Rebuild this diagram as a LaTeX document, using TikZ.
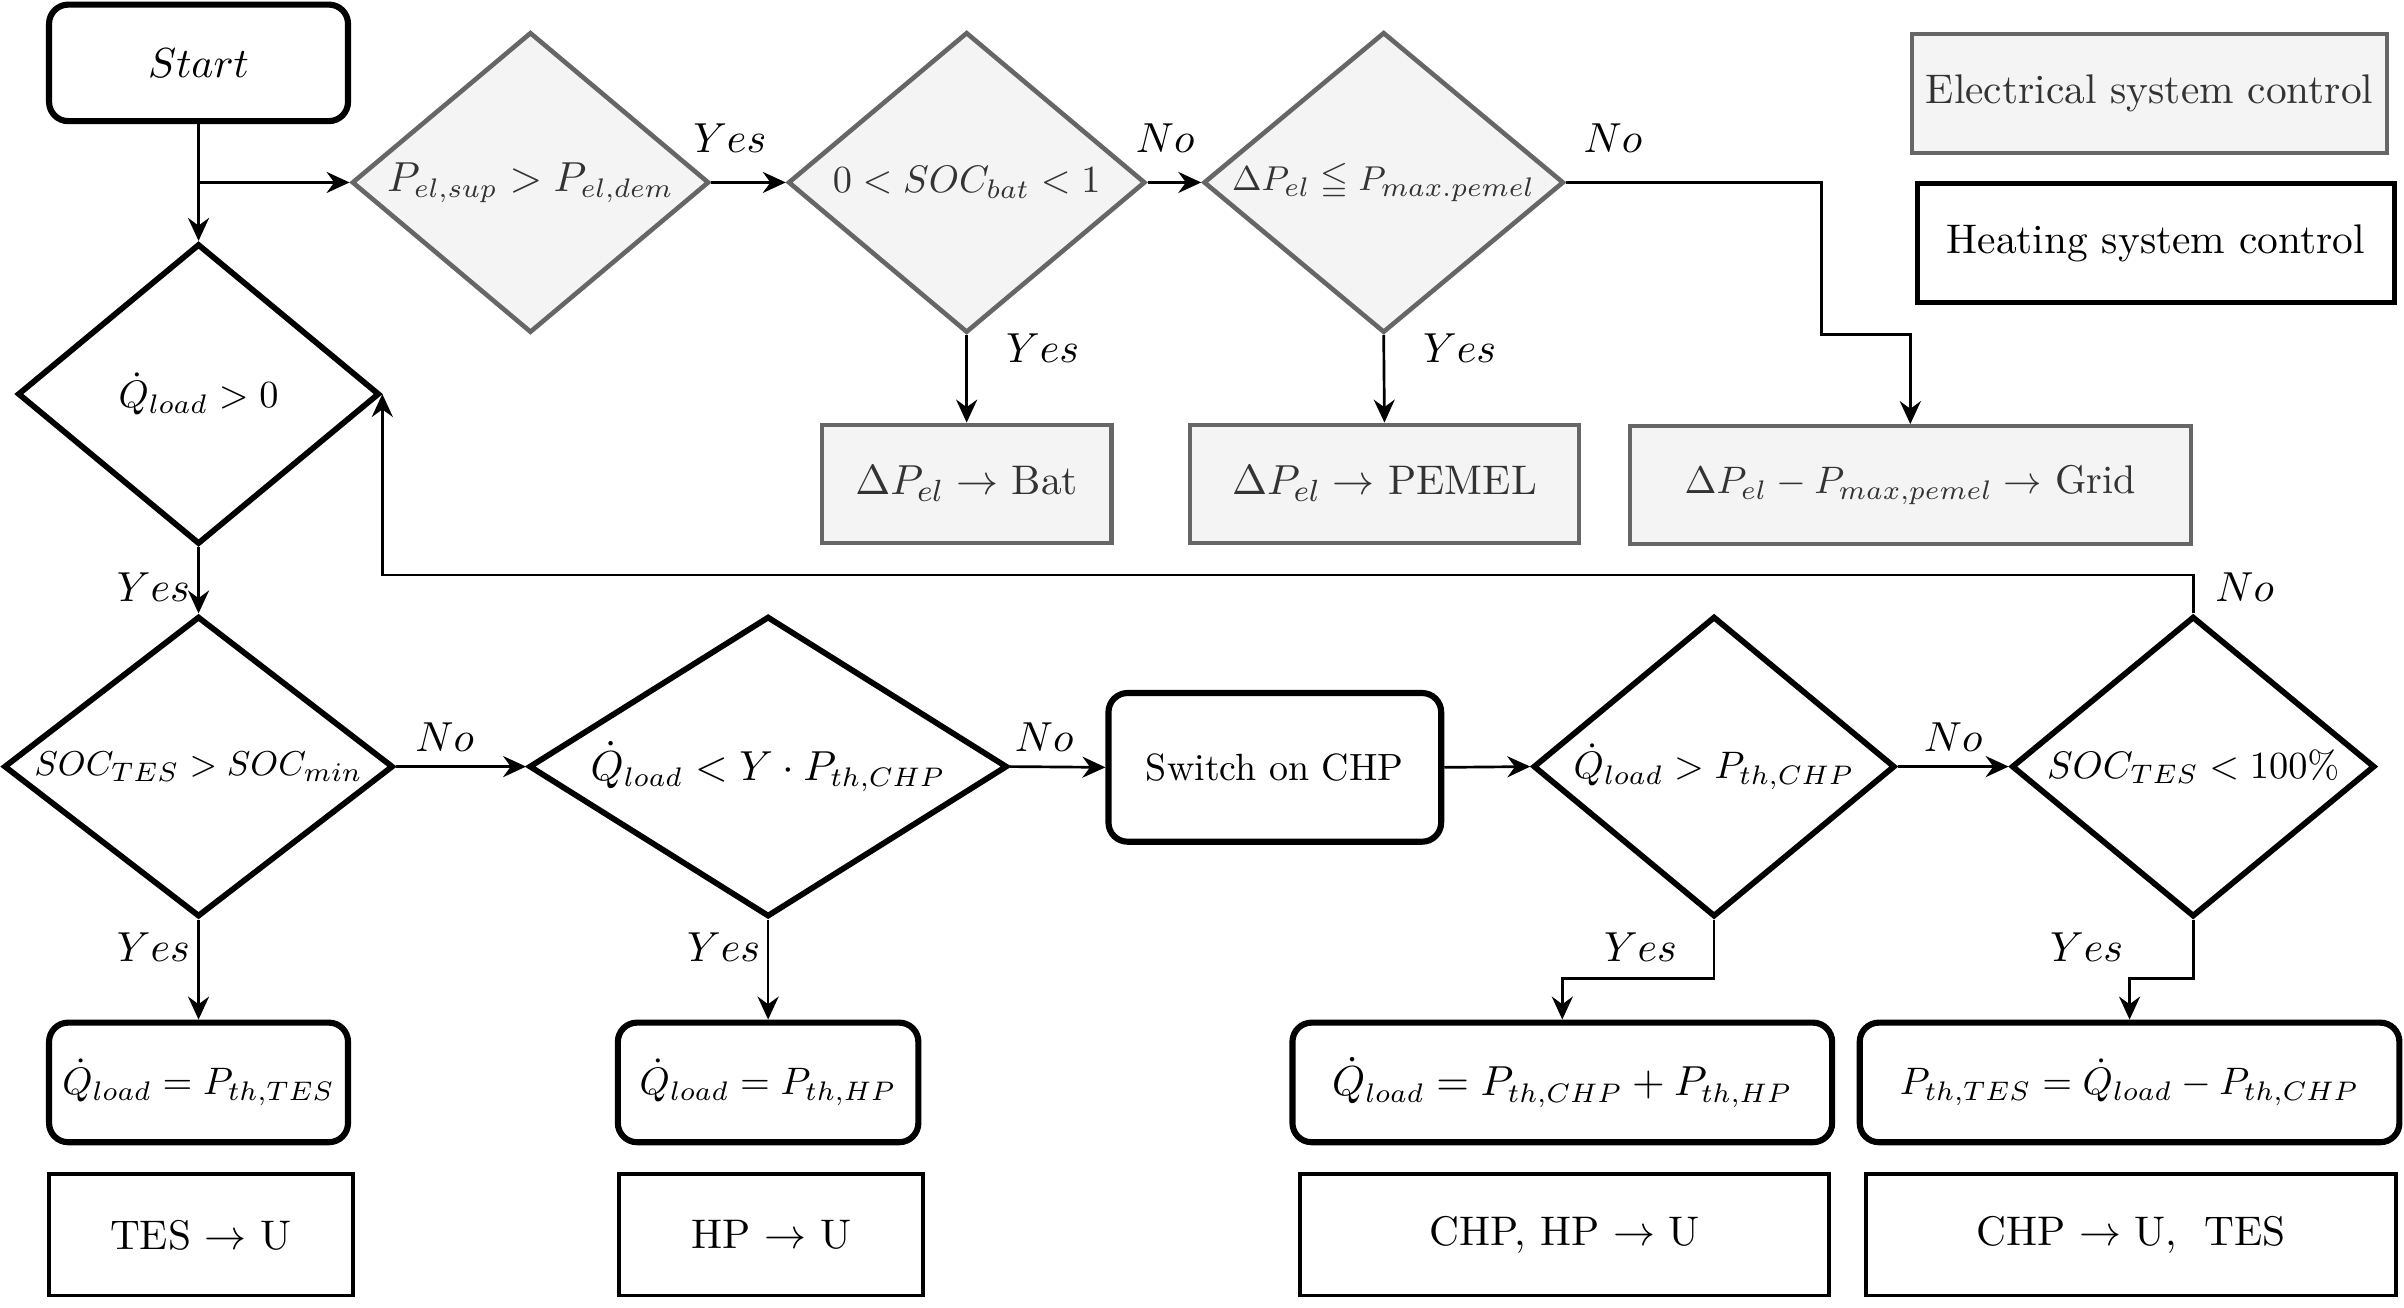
\documentclass[tikz,border=0pt]{standalone}
\usepackage{amsmath,amssymb}
\usetikzlibrary{shapes.geometric,arrows.meta}
\definecolor{egray}{HTML}{666666}
\definecolor{efill}{HTML}{F4F4F4}
\definecolor{etext}{HTML}{333333}
\newcommand{\zb}[1]{\makebox[0pt][c]{#1}}
\begin{document}
\begin{tikzpicture}[x=0.4pt,y=-0.4pt,font=\fontsize{10.8}{13}\selectfont,
  fs/.style={font=\fontsize{#1}{13}\selectfont},
  conn/.style={line width=0.7pt,-{Stealth[length=6pt,width=5.5pt,inset=2pt]}},
  edia/.style={shape=diamond,draw=egray,fill=efill,text=etext,line width=1.2pt,inner sep=0pt,minimum height=78.4pt},
  hdia/.style={shape=diamond,draw=black,line width=1.5pt,inner sep=0pt,minimum height=78.4pt},
  ebox/.style={rectangle,draw=egray,fill=efill,text=etext,line width=1.1pt,inner sep=0pt,minimum height=30.8pt},
  rbox/.style={rectangle,rounded corners=5pt,draw=black,line width=1.6pt,inner sep=0pt,minimum height=31.2pt},
  ubox/.style={rectangle,draw=black,line width=1pt,inner sep=0pt,minimum height=31.6pt},
  lbl/.style={inner sep=0pt}]
\useasboundingbox (0,0) rectangle (1568,853);
% legend
\node[ebox,minimum width=124pt,minimum height=31.2pt] (legE) at (1402,61) {Electrical system control};
\node[ubox,line width=1.3pt,minimum width=124.4pt,minimum height=30.8pt] (legH) at (1406,158.5) {Heating system control};
% electrical
\node[rbox,minimum width=78pt,minimum height=30.4pt] (start) at (129.5,41) {$Start$};
\node[edia,fs=10.6,minimum width=93.2pt] (pel) at (346,119) {\zb{$P_{el,sup} > P_{el,dem}$}};
\node[edia,fs=9.9,minimum width=93.2pt] (sbat) at (630.5,119) {\zb{$0 < SOC_{bat} < 1$}};
\node[edia,fs=9.4,minimum width=94pt] (dpel) at (902.5,119) {\zb{$\Delta P_{el} \leqq P_{max.pemel}$}};
\node[ebox,minimum width=75.6pt] (bat) at (630.5,315.5) {$\Delta P_{el} \rightarrow$ Bat};
\node[ebox,minimum width=101.6pt] (pemel) at (903,315.5) {$\Delta P_{el} \rightarrow$ PEMEL};
\node[ebox,fs=10.45,minimum width=146.4pt] (grid) at (1246,316.5) {$\Delta P_{el} - P_{max,pemel} \rightarrow$ Grid};
% heating
\node[hdia,fs=9.8,minimum width=94.4pt] (q) at (129.5,257) {\zb{$\dot{Q}_{load} > 0$}};
\node[hdia,fs=9.3,minimum width=101.6pt] (s1) at (129.5,500) {\zb{$SOC_{TES} > SOC_{min}$}};
\node[hdia,fs=10.5,minimum width=124.8pt] (qy) at (501,500) {\zb{$\dot{Q}_{load} < Y \cdot P_{th,CHP}$}};
\node[rbox,fs=9.9,minimum width=86.8pt,minimum height=38.8pt] (sw) at (831.5,500.5) {Switch on CHP};
\node[hdia,fs=10.3,minimum width=94.4pt] (qp) at (1118,500) {\zb{$\dot{Q}_{load} > P_{th,CHP}$}};
\node[hdia,fs=9.6,minimum width=94.8pt] (s2) at (1430.5,500) {\zb{$SOC_{TES} < 100\%$}};
\node[rbox,fs=10.4,minimum width=78pt] (r1) at (129.5,706) {$\dot{Q}_{load} = P_{th,TES}$};
\node[rbox,fs=10.4,minimum width=78.4pt] (r2) at (501,706) {$\dot{Q}_{load} = P_{th,HP}$};
\node[rbox,fs=10.6,minimum width=140.8pt] (r3) at (1019,706) {$\dot{Q}_{load} = P_{th,CHP} + P_{th,HP}$};
\node[rbox,fs=10.2,minimum width=140.8pt] (r4) at (1389,706) {$P_{th,TES} = \dot{Q}_{load} - P_{th,CHP}$};
\node[ubox,minimum width=79.2pt] (u1) at (131,805.5) {TES $\rightarrow$ U};
\node[ubox,minimum width=79.2pt] (u2) at (503,805.5) {HP $\rightarrow$ U};
\node[ubox,minimum width=138pt] (u3) at (1020.5,805.5) {CHP, HP $\rightarrow$ U};
\node[ubox,minimum width=138.4pt] (u4) at (1390,805.5) {CHP $\rightarrow$ U,\ \ TES};
% connectors
\coordinate (br) at (start.south |- pel.west);
\draw[conn] (start.south) -- (q.north);
\draw[conn] (br) -- (pel.west);
\draw[conn] (pel.east) -- (sbat.west);
\draw[conn] (sbat.east) -- (dpel.west);
\draw[conn] (sbat.south) -- (bat.north);
\draw[conn] (dpel.south) -- (pemel.north);
\coordinate (g1) at (1188,119);
\coordinate (g2) at (1188,218);
\draw[conn] (dpel.east) -- (g1) -- (g2) -| (grid.north);
\draw[conn] (q.south) -- (s1.north);
\draw[conn] (s1.east) -- (qy.west);
\draw[conn] (qy.east) -- (sw.west);
\draw[conn] (sw.east) -- (qp.west);
\draw[conn] (qp.east) -- (s2.west);
\draw[conn] (s1.south) -- (r1.north);
\draw[conn] (qy.south) -- (r2.north);
\coordinate (k1) at (1118,638);
\draw[conn] (qp.south) -- (k1) -| (r3.north);
\coordinate (k2) at (1430.5,638);
\draw[conn] (s2.south) -- (k2) -| (r4.north);
\coordinate (fb) at (1430.5,375);
\draw[conn] (s2.north) -- (fb) -| (q.east);
% labels
\node[lbl] (l1) at (476,90) {$Yes$};
\node[lbl] (l2) at (760,90) {$No$};
\node[lbl] (l3) at (1052,90) {$No$};
\node[lbl] (l4) at (680,227) {$Yes$};
\node[lbl] (l5) at (952,227) {$Yes$};
\node[lbl] (l6) at (100,383) {$Yes$};
\node[lbl] (l7) at (1464,383) {$No$};
\node[lbl] (l8) at (290,481) {$No$};
\node[lbl] (l9) at (681,481) {$No$};
\node[lbl] (l10) at (1274,481) {$No$};
\node[lbl] (l11) at (100,618) {$Yes$};
\node[lbl] (l12) at (472,618) {$Yes$};
\node[lbl] (l13) at (1070,618) {$Yes$};
\node[lbl] (l14) at (1361,618) {$Yes$};
\end{tikzpicture}
\end{document}
